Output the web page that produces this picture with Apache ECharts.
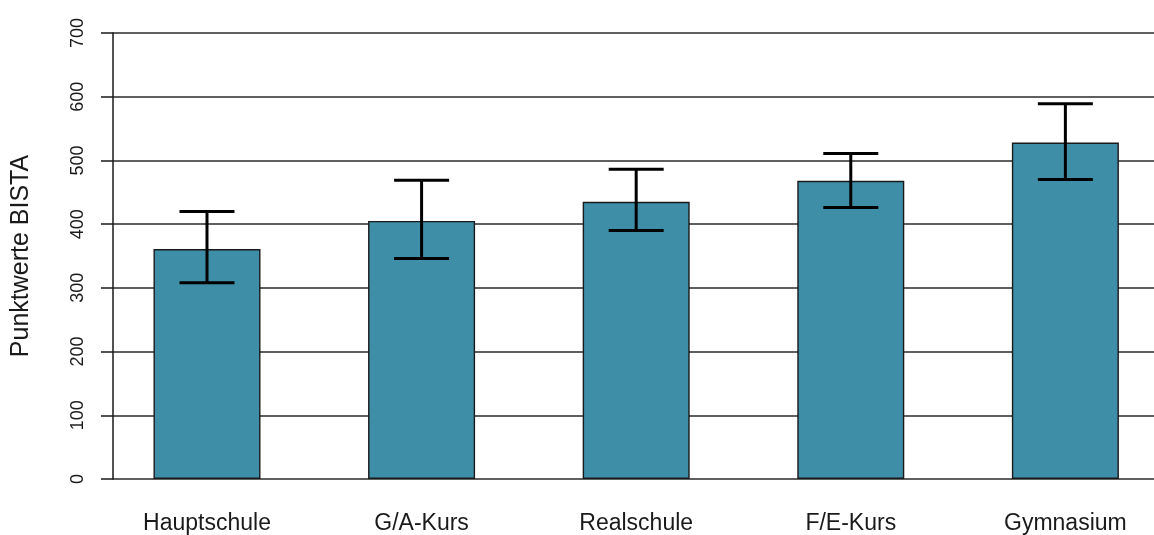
<!DOCTYPE html>
<html>
<head>
<meta charset="utf-8">
<script src="https://cdn.jsdelivr.net/npm/echarts@6/dist/echarts.min.js"></script>
<style>
html,body{margin:0;padding:0;background:#fff;}
#chart{width:1154px;height:535px;}
</style>
</head>
<body>
<div id="chart"></div>
<script>
const categories = ['Hauptschule', 'G/A-Kurs', 'Realschule', 'F/E-Kurs', 'Gymnasium'];
const positions = [1.5, 3.5, 5.5, 7.5, 9.5];
const means = [361, 405, 435, 468, 528];
const lower = [308, 346, 390, 426, 470];
const upper = [420, 469, 486, 511, 589];
const yTicks = [0, 100, 200, 300, 400, 500, 600, 700];

const chart = echarts.init(document.getElementById('chart'), null, {renderer: 'canvas'});
const font = '"Liberation Sans", Arial, sans-serif';

const option = {
  backgroundColor: '#ffffff',
  animation: false,
  grid: {left: 113, right: 0, top: 33, bottom: 56, containLabel: false, outerBoundsMode: 'none'},
  xAxis: {
    type: 'value', min: 0.624, max: 10.326,
    axisLine: {show: false}, axisTick: {show: false}, splitLine: {show: false},
    axisLabel: {
      customValues: positions,
      formatter: function (v) {
        const i = positions.findIndex(p => Math.abs(p - v) < 1e-6);
        return i >= 0 ? categories[i] : '';
      },
      hideOverlap: false,
      color: '#1a1a1a', fontFamily: font, fontSize: 23, margin: 33
    }
  },
  yAxis: {
    type: 'value', min: yTicks[0], max: yTicks[yTicks.length - 1], interval: 100,
    name: 'Punktwerte BISTA', nameLocation: 'middle', nameRotate: 90, nameGap: 79,
    nameTextStyle: {color: '#1a1a1a', fontFamily: font, fontSize: 25},
    axisLine: {show: true, lineStyle: {color: '#1a1a1a', width: 1.5}},
    axisTick: {show: true, length: 12, lineStyle: {color: '#1a1a1a', width: 1.5}},
    axisLabel: {rotate: 90, color: '#1a1a1a', fontFamily: font, fontSize: 18, margin: 26},
    splitLine: {show: true, lineStyle: {color: '#2a2a2a', width: 1.5}}
  },
  series: [
    {type: 'bar', data: positions.map((p, i) => [p, means[i]]), barWidth: 107,
     itemStyle: {color: '#3e8ea8', borderColor: '#1a1a1a', borderWidth: 1.4}},
    {type: 'custom',
     data: positions.map((p, i) => [p, lower[i], upper[i]]),
     renderItem: function (params, api) {
       const lo = api.coord([api.value(0), api.value(1)]);
       const hi = api.coord([api.value(0), api.value(2)]);
       const half = 27.5;
       const st = {stroke: '#000', lineWidth: 3};
       return {type: 'group', children: [
         {type: 'line', shape: {x1: hi[0], y1: hi[1], x2: lo[0], y2: lo[1]}, style: st},
         {type: 'line', shape: {x1: hi[0] - half, y1: hi[1], x2: hi[0] + half, y2: hi[1]}, style: st},
         {type: 'line', shape: {x1: lo[0] - half, y1: lo[1], x2: lo[0] + half, y2: lo[1]}, style: st}
       ]};
     },
     z: 10}
  ]
};
chart.setOption(option);
</script>
</body>
</html>
